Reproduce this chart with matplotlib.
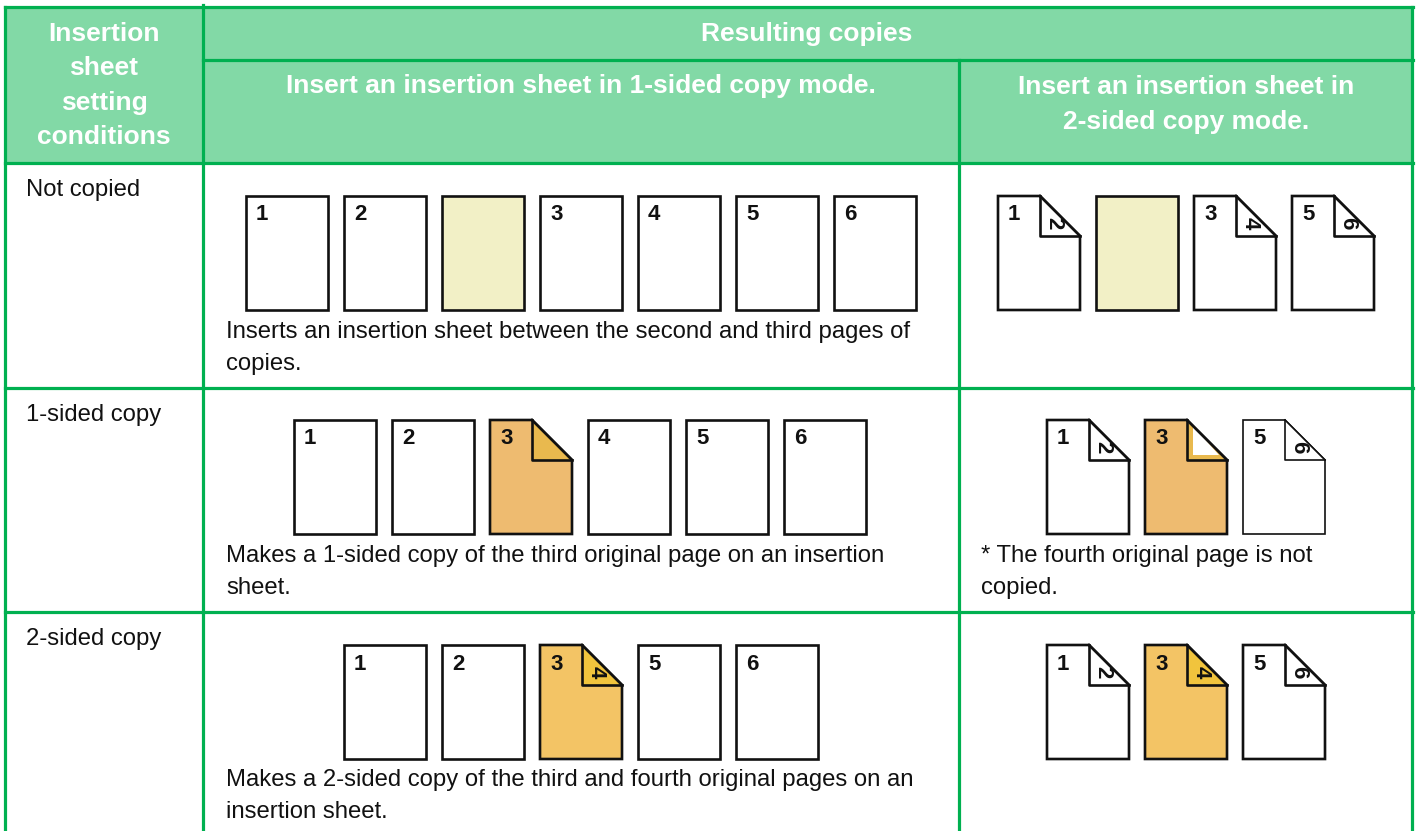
import matplotlib.pyplot as plt
from matplotlib.patches import Polygon, Rectangle

plt.rcParams['font.family'] = ['Liberation Sans', 'DejaVu Sans']

# table text
col_head_left = ["Insertion", "sheet", "setting", "conditions"]
col_head_top = "Resulting copies"
col_head_1 = ["Insert an insertion sheet in 1-sided copy mode."]
col_head_2 = ["Insert an insertion sheet in", "2-sided copy mode."]
row_labels = ["Not copied", "1-sided copy", "2-sided copy"]
row_notes_left = [
    ["Inserts an insertion sheet between the second and third pages of", "copies."],
    ["Makes a 1-sided copy of the third original page on an insertion", "sheet."],
    ["Makes a 2-sided copy of the third and fourth original pages on an", "insertion sheet."],
]
row_notes_right = [[], ["* The fourth original page is not", "copied."], []]

# pages: "front/back" (back shown in folded corner), "" = blank insertion sheet
row1_left_pages = ["1", "2", "", "3", "4", "5", "6"]
row1_left_paper = ["w", "w", "y", "w", "w", "w", "w"]
row1_right_pages = ["1/2", "", "3/4", "5/6"]
row1_right_paper = ["w", "y", "w", "w"]
row2_left_pages = ["1", "2", "3/", "4", "5", "6"]
row2_left_paper = ["w", "w", "o", "w", "w", "w"]
row2_right_pages = ["1/2", "3/", "5/6"]
row2_right_paper = ["w", "o2", "w"]
row3_left_pages = ["1", "2", "3/4", "5", "6"]
row3_left_paper = ["w", "w", "g", "w", "w"]
row3_right_pages = ["1/2", "3/4", "5/6"]
row3_right_paper = ["w", "g", "w"]

papers = {
    "w": ("#ffffff", "#ffffff"),
    "y": ("#f2f0c6", "#f2f0c6"),
    "o": ("#eebb70", "#e9b94e"),
    "o2": ("#eebb70", "#ffffff"),
    "g": ("#f3c465", "#f1c43d"),
}

GREEN = "#00b050"
HEAD = "#82d9a6"
W, H, F = 82, 114, 40
PITCH = 98

fig = plt.figure(figsize=(14.17, 8.31), dpi=100)
ax = fig.add_axes([0, 0, 1, 1])
ax.set_xlim(0, 1417)
ax.set_ylim(831, 0)
ax.axis("off")

# header background and grid
ax.add_patch(Rectangle((5, 7), 1407, 156, facecolor=HEAD, edgecolor="none"))
lw = 2.3
ax.plot([5, 1413], [7, 7], color=GREEN, lw=lw)
ax.plot([203, 1413], [60, 60], color=GREEN, lw=lw)
for y in [163, 388, 612]:
    ax.plot([5, 1413], [y, y], color=GREEN, lw=lw)
ax.plot([5, 5], [7, 831], color=GREEN, lw=lw)
ax.plot([203, 203], [5, 831], color=GREEN, lw=lw)
ax.plot([959, 959], [60, 831], color=GREEN, lw=lw)
ax.plot([1412, 1412], [7, 831], color=GREEN, lw=lw)

hd = dict(color="white", fontsize=19, fontweight="bold", ha="center", va="center")
for i, t in enumerate(col_head_left):
    ax.text(104, 34 + i * 34.3, t, **hd)
ax.text(807, 34, col_head_top, **hd)
for i, t in enumerate(col_head_1):
    ax.text(581, 86, t, **hd)
for i, t in enumerate(col_head_2):
    ax.text(1186, 87 + i * 35, t, **hd)

body = dict(color="#111111", fontsize=17.2, ha="left", va="center")
row_tops = [163, 388, 612]
for i, lab in enumerate(row_labels):
    ax.text(26, row_tops[i] + 27, lab, **body)
note_y = [332, 556, 780]
for i in range(3):
    for j, t in enumerate(row_notes_left[i]):
        ax.text(226, note_y[i] + j * 32, t, **body)
    for j, t in enumerate(row_notes_right[i]):
        ax.text(981, note_y[i] + j * 32, t, **body)


def draw_page(x0, top, token, paper, thin=False):
    face, back = papers[paper]
    plw = 1.2 if thin else 1.9
    if "/" in token:
        front, rear = token.split("/")
        pts = [(x0, top), (x0 + W - F, top), (x0 + W, top + F), (x0 + W, top + H), (x0, top + H)]
        ax.add_patch(Polygon(pts, closed=True, facecolor=face, edgecolor="#111111", lw=plw, joinstyle="miter"))
        fx = x0 + W - F
        if paper == "o2":
            ax.add_patch(Polygon([(fx, top), (fx, top + F), (x0 + W, top + F)], closed=True,
                                 facecolor="#e9b94e", edgecolor="none"))
            ax.add_patch(Polygon([(fx + 6, top + 6), (fx + 6, top + F - 5), (x0 + W - 8, top + F - 5)],
                                 closed=True, facecolor="white", edgecolor="none"))
        else:
            ax.add_patch(Polygon([(fx, top), (fx, top + F), (x0 + W, top + F)], closed=True,
                                 facecolor=back, edgecolor="none"))
        ax.plot([fx, fx, x0 + W], [top, top + F, top + F], color="#111111", lw=plw)
        ax.plot([fx, x0 + W], [top, top + F], color="#111111", lw=plw)
        if rear:
            ax.text(fx + 14, top + 27, rear, rotation=-90, fontsize=16, fontweight="bold",
                    ha="center", va="center", color="#111111")
    else:
        front = token
        ax.add_patch(Rectangle((x0, top), W, H, facecolor=face, edgecolor="#111111", lw=plw))
    if front:
        ax.text(x0 + 10, top + 19, front, fontsize=16, fontweight="bold", ha="left", va="center",
                color="#111111")


cells = [
    (row1_left_pages, row1_left_paper, 246, 196),
    (row1_right_pages, row1_right_paper, 998, 196),
    (row2_left_pages, row2_left_paper, 294, 420),
    (row2_right_pages, row2_right_paper, 1047, 420),
    (row3_left_pages, row3_left_paper, 344, 645),
    (row3_right_pages, row3_right_paper, 1047, 645),
]
for ci, (pages, paper, x_start, top) in enumerate(cells):
    for k, (tok, pp) in enumerate(zip(pages, paper)):
        thin = (ci == 3 and k == 2)
        draw_page(x_start + k * PITCH, top, tok, pp, thin)

fig.savefig("out.png", dpi=100)
